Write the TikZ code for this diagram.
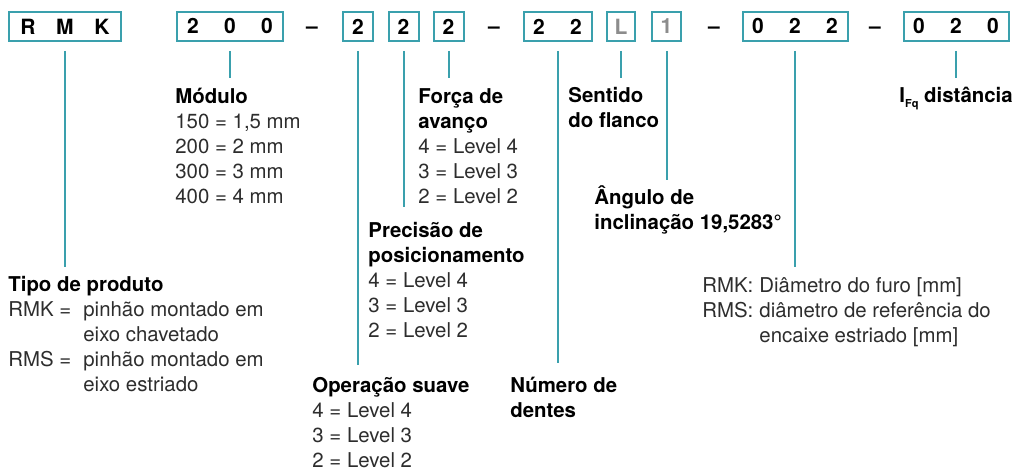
\documentclass[tikz,border=0pt]{standalone}
\usepackage{fontspec}
\setmainfont{TeX Gyre Heros}
\usepackage{xcolor}
\usepackage{tikz}
\definecolor{codeteal}{RGB}{58, 160, 173}
\definecolor{codegray}{RGB}{140, 140, 140}
\definecolor{bodygray}{RGB}{45, 45, 45}
\newcommand{\cell}[1]{\makebox[18.5pt]{#1}}
\newcommand{\head}[1]{\textcolor{black}{\bfseries #1}}

\begin{document}
\begin{tikzpicture}[x=0.5pt, y=-0.5pt,
        codebox/.style = {draw=codeteal, line width=1pt, inner xsep=-1.5pt, inner ysep=0pt, minimum height=14.5pt, font=\fontsize{10.5}{12}\selectfont\bfseries},
        sep/.style = {anchor=base, inner sep=0pt, font=\fontsize{10.5}{12}\selectfont\bfseries},
        desc/.style = {anchor=north west, inner sep=0pt, align=left, text=bodygray, font=\fontsize{10.2}{12.5}\selectfont},
        link/.style = {draw=codeteal, line width=1pt}]
        \useasboundingbox (0,0) rectangle (1016,469);
        % code row
        \node[codebox, minimum width=56pt] (rmk) at (65,26.5) {\cell{R}\cell{M}\cell{K}};
        \node[codebox, minimum width=53pt] (b200) at (230,26.5) {\cell{2}\cell{0}\cell{0}};
        \node[sep] (d1) at (312,34) {–};
        \node[codebox, minimum width=15pt] (b2a) at (358,26.5) {2};
        \node[codebox, minimum width=15pt] (b2b) at (403.5,26.5) {2};
        \node[codebox, minimum width=15pt] (b2c) at (448.5,26.5) {2};
        \node[sep] (d2) at (494,34) {–};
        \node[codebox, minimum width=33.5pt] (b22) at (557.5,26.5) {\cell{2}\cell{2}};
        \node[codebox, text=codegray, minimum width=14pt] (bL) at (621,26.5) {L};
        \node[codebox, text=codegray, minimum width=14.5pt] (b1) at (666.5,26.5) {1};
        \node[sep] (d3) at (714,34) {–};
        \node[codebox, minimum width=52pt] (b022) at (795,26.5) {\cell{0}\cell{2}\cell{2}};
        \node[sep] (d4) at (875,34) {–};
        \node[codebox, minimum width=52pt] (b020) at (956,26.5) {\cell{0}\cell{2}\cell{0}};
        % descriptions
        \node[desc] (tipo) at (8,273.5) {\strut\head{Tipo de produto}\\\makebox[37.5pt][l]{RMK =}pinhão montado em\\\hspace*{37.5pt}eixo chavetado\\\makebox[37.5pt][l]{RMS =}pinhão montado em\\\hspace*{37.5pt}eixo estriado};
        \node[desc] (modulo) at (175,85.5) {\strut\head{Módulo}\\150 = 1,5 mm\\200 = 2 mm\\300 = 3 mm\\400 = 4 mm};
        \node[desc] (operacao) at (312,374.5) {\strut\head{Operação suave}\\4 = Level 4\\3 = Level 3\\2 = Level 2};
        \node[desc] (precisao) at (368,219.5) {\strut\head{Precisão de}\\\head{posicionamento}\\4 = Level 4\\3 = Level 3\\2 = Level 2};
        \node[desc] (forca) at (418,85.5) {\strut\head{Força de}\\\head{avanço}\\4 = Level 4\\3 = Level 3\\2 = Level 2};
        \node[desc] (numero) at (510,374.5) {\strut\head{Número de}\\\head{dentes}};
        \node[desc] (sentido) at (568,84.5) {\strut\head{Sentido}\\\head{do flanco}};
        \node[desc] (angulo) at (594,185.5) {\strut\head{Ângulo de}\\\head{inclinação 19,5283°}};
        \node[desc] (diametro) at (702,274.5) {\strut\makebox[28.5pt][l]{RMK:}Diâmetro do furo [mm]\\\makebox[28.5pt][l]{RMS:}diâmetro de referência do\\\hspace*{28.5pt}encaixe estriado [mm]};
        \node[desc] (distancia) at (899,84.5) {\strut\head{I\raisebox{-2.5pt}{\fontsize{5.5}{6}\selectfont Fq} distância}};
        % leader lines
        \draw[link] ([yshift=-4.5pt]rmk.south) -- ([yshift=3.25pt]rmk.south |- tipo.north);
        \draw[link] ([yshift=-4.5pt]b200.south) -- ([yshift=3.75pt]b200.south |- modulo.north);
        \draw[link] ([yshift=-4.5pt]b2a.south) -- ([yshift=4.75pt]b2a.south |- operacao.north);
        \draw[link] ([yshift=-4.5pt]b2b.south) -- ([yshift=6.25pt]b2b.south |- precisao.north);
        \draw[link] ([yshift=-4.5pt]b2c.south) -- ([yshift=3.75pt]b2c.south |- forca.north);
        \draw[link] ([yshift=-4.5pt]b22.south) -- ([yshift=5.75pt]b22.south |- numero.north);
        \draw[link] ([yshift=-4.5pt]bL.south) -- ([yshift=3.25pt]bL.south |- sentido.north);
        \draw[link] ([yshift=-4.5pt]b1.south) -- ([yshift=2.75pt]b1.south |- angulo.north);
        \draw[link] ([yshift=-4.5pt]b022.south) -- ([yshift=3.75pt]b022.south |- diametro.north);
        \draw[link] ([yshift=-4.5pt]b020.south) -- ([yshift=3.25pt]b020.south |- distancia.north);
\end{tikzpicture}
\end{document}
